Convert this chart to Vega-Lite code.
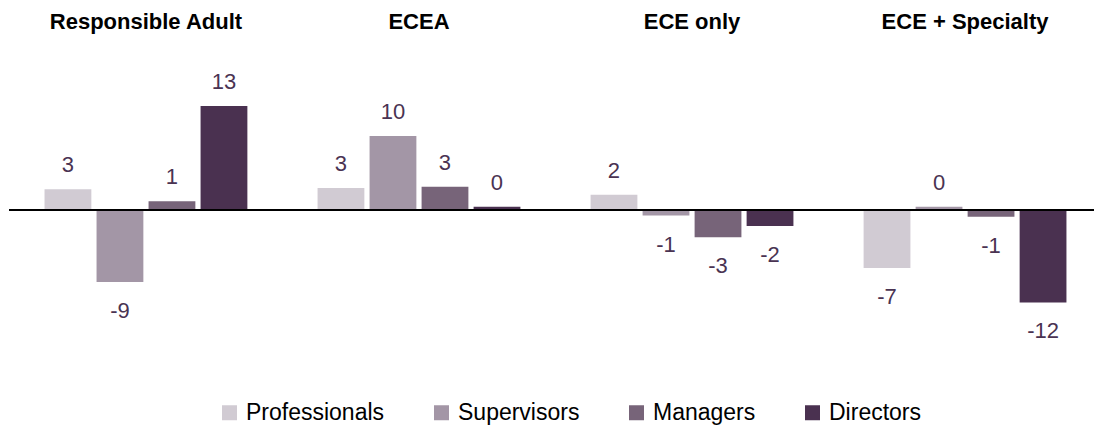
{
  "$schema": "https://vega.github.io/schema/vega-lite/v6.json",
  "width": 1085,
  "height": 320,
  "autosize": {"type": "none"},
  "padding": {"left": 9, "top": 50, "right": 0, "bottom": 62},
  "config": {"view": {"stroke": null}, "font": "Liberation Sans"},
  "data": {
    "values": [
      {"group": "Responsible Adult", "role": "Professionals", "value": 2.6, "label": "3"},
      {"group": "Responsible Adult", "role": "Supervisors", "value": -9.0, "label": "-9"},
      {"group": "Responsible Adult", "role": "Managers", "value": 1.1, "label": "1"},
      {"group": "Responsible Adult", "role": "Directors", "value": 13.0, "label": "13"},
      {"group": "ECEA", "role": "Professionals", "value": 2.75, "label": "3"},
      {"group": "ECEA", "role": "Supervisors", "value": 9.25, "label": "10"},
      {"group": "ECEA", "role": "Managers", "value": 2.9, "label": "3"},
      {"group": "ECEA", "role": "Directors", "value": 0.4, "label": "0"},
      {"group": "ECE only", "role": "Professionals", "value": 1.9, "label": "2"},
      {"group": "ECE only", "role": "Supervisors", "value": -0.7, "label": "-1"},
      {"group": "ECE only", "role": "Managers", "value": -3.4, "label": "-3"},
      {"group": "ECE only", "role": "Directors", "value": -2.0, "label": "-2"},
      {"group": "ECE + Specialty", "role": "Professionals", "value": -7.25, "label": "-7"},
      {"group": "ECE + Specialty", "role": "Supervisors", "value": 0.4, "label": "0"},
      {"group": "ECE + Specialty", "role": "Managers", "value": -0.85, "label": "-1"},
      {"group": "ECE + Specialty", "role": "Directors", "value": -11.55, "label": "-12"}
    ]
  },
  "layer": [
    {
      "mark": {"type": "bar", "strokeWidth": 0},
      "encoding": {
        "x": {"field": "group", "type": "nominal", "sort": ["Responsible Adult", "ECEA", "ECE only", "ECE + Specialty"],
          "scale": {"paddingInner": 0.238, "paddingOuter": 0.106, "align": 0.569},
          "axis": {"orient": "top", "title": null, "domain": false, "ticks": false, "labelFontSize": 22, "labelFontWeight": "bold", "labelColor": "#000000", "labelPadding": 17, "labelAngle": 0, "labelLimit": 0, "labelFont": "Liberation Sans"}},
        "xOffset": {"field": "role", "type": "nominal", "sort": ["Professionals", "Supervisors", "Managers", "Directors"],
          "scale": {"paddingInner": 0.1, "paddingOuter": 0.05}},
        "y": {"field": "value", "type": "quantitative", "scale": {"domain": [-20, 20], "nice": false}, "axis": null},
        "color": {"field": "role", "type": "nominal", "sort": ["Professionals", "Supervisors", "Managers", "Directors"],
          "scale": {"domain": ["Professionals", "Supervisors", "Managers", "Directors"], "range": ["#d1cbd3", "#a396a6", "#776479", "#4a3150"]},
          "legend": {"orient": "none", "legendX": 209, "legendY": 351, "direction": "horizontal", "title": null, "symbolType": "square", "symbolSize": 225, "symbolStrokeWidth": 0, "symbolOpacity": 1, "labelFontSize": 23, "labelColor": "#000000", "labelOffset": 5, "columnPadding": 45, "labelLimit": 0, "labelFont": "Liberation Sans"}}
      }
    },
    {
      "transform": [{"filter": "datum.value >= 0"}],
      "mark": {"type": "text", "baseline": "alphabetic", "dy": -17, "fontSize": 22, "color": "#4a3352", "font": "Liberation Sans"},
      "encoding": {
        "x": {"field": "group", "type": "nominal", "sort": ["Responsible Adult", "ECEA", "ECE only", "ECE + Specialty"]},
        "xOffset": {"field": "role", "type": "nominal", "sort": ["Professionals", "Supervisors", "Managers", "Directors"]},
        "y": {"field": "value", "type": "quantitative"},
        "text": {"field": "label"}
      }
    },
    {
      "transform": [{"filter": "datum.value < 0"}],
      "mark": {"type": "text", "baseline": "top", "dy": 19, "fontSize": 22, "color": "#4a3352", "font": "Liberation Sans"},
      "encoding": {
        "x": {"field": "group", "type": "nominal", "sort": ["Responsible Adult", "ECEA", "ECE only", "ECE + Specialty"]},
        "xOffset": {"field": "role", "type": "nominal", "sort": ["Professionals", "Supervisors", "Managers", "Directors"]},
        "y": {"field": "value", "type": "quantitative"},
        "text": {"field": "label"}
      }
    },
    {
      "data": {"values": [{"zero": 0}]},
      "mark": {"type": "rule", "color": "#000000", "strokeWidth": 2},
      "encoding": {"y": {"field": "zero", "type": "quantitative"}}
    }
  ]
}
